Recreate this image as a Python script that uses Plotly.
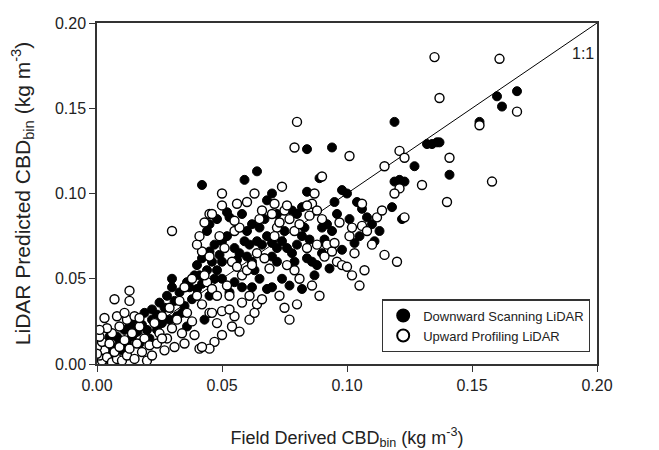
import plotly.graph_objects as go

# Downward Scanning LiDAR (filled)
down_x = [0.002,0.004,0.007,0.010,0.012,0.014,0.016,0.008,0.018,0.020,0.022,0.006,0.013,0.005,
          0.022,0.025,0.028,0.030,0.030,0.032,0.035,0.038,0.040,0.042,0.045,0.048,0.050,0.026,0.024,0.033,0.036,0.043,
          0.040,0.042,0.045,0.047,0.050,0.052,0.055,0.057,0.060,0.062,0.063,0.065,0.058,0.055,0.053,0.062,0.068,0.060,
          0.062,0.065,0.058,0.052,0.053,0.048,0.045,0.044,0.066,0.068,0.070,0.072,0.064,0.059,0.050,0.047,0.044,
          0.070,0.072,0.074,0.075,0.076,0.078,0.080,0.082,0.083,0.085,0.086,0.088,0.090,0.092,0.094,0.095,0.100,0.098,
          0.078,0.080,0.082,0.090,0.084,0.074,0.077,0.070,0.082,0.087,0.093,0.098,0.072,0.070,0.084,0.089,
          0.101,0.104,0.106,0.108,0.110,0.113,0.105,0.103,0.111,0.119,0.121,0.123,0.118,0.119,0.127,0.122,
          0.084,0.094,0.064,0.059,0.042,0.068,0.132,0.134,0.136,0.137,0.141,0.153,0.160,0.162,0.168,
          0.015,0.019,0.027,0.031,0.034,0.037,0.039,0.046,0.029,0.021,0.011,0.009,0.017,0.024,
          0.036,0.041,0.049,0.056,0.061,0.067,0.073,0.079,0.091,0.096]
down_y = [0.001,0.006,0.004,0.008,0.012,0.016,0.019,0.016,0.023,0.020,0.026,0.010,0.022,0.016,
          0.032,0.036,0.040,0.045,0.050,0.028,0.034,0.038,0.044,0.047,0.040,0.055,0.050,0.024,0.020,0.042,0.022,0.026,
          0.058,0.062,0.066,0.070,0.072,0.075,0.068,0.065,0.063,0.060,0.055,0.050,0.045,0.048,0.042,0.045,0.044,0.078,
          0.082,0.080,0.088,0.089,0.086,0.085,0.082,0.078,0.070,0.075,0.071,0.068,0.072,0.072,0.060,0.050,0.055,
          0.063,0.060,0.072,0.078,0.068,0.065,0.070,0.075,0.080,0.073,0.060,0.058,0.065,0.082,0.078,0.095,0.100,0.102,
          0.090,0.088,0.092,0.080,0.062,0.050,0.046,0.045,0.044,0.052,0.056,0.067,0.088,0.100,0.101,0.109,
          0.085,0.095,0.091,0.086,0.082,0.078,0.075,0.071,0.072,0.107,0.108,0.107,0.092,0.142,0.116,0.085,
          0.126,0.127,0.113,0.108,0.105,0.096,0.129,0.129,0.130,0.130,0.111,0.142,0.157,0.151,0.160,
          0.024,0.030,0.033,0.037,0.030,0.045,0.052,0.060,0.026,0.015,0.020,0.013,0.012,0.029,
          0.048,0.052,0.064,0.061,0.070,0.085,0.083,0.060,0.073,0.088]

# Upward Profiling LiDAR (open)
up_x = [0.000,0.002,0.001,0.003,0.000,0.002,0.001,0.004,0.006,0.008,0.005,0.007,0.009,0.010,0.012,0.011,0.013,
        0.015,0.016,0.014,0.018,0.019,0.017,0.020,0.021,0.006,0.009,0.012,0.004,0.008,0.011,0.015,0.003,0.000,0.001,
        0.007,0.013,0.013,
        0.022,0.024,0.027,0.025,0.028,0.030,0.026,0.032,0.034,0.036,0.038,0.041,0.047,0.050,0.042,0.045,0.048,0.040,
        0.033,0.029,0.035,0.044,0.038,0.043,0.050,0.046,0.053,0.055,
        0.042,0.045,0.049,0.051,0.054,0.056,0.058,0.060,0.062,0.055,0.057,0.064,0.067,0.069,0.061,0.058,0.064,0.052,
        0.048,0.040,0.041,0.045,0.056,0.060,0.066,0.065,0.070,0.072,0.055,0.063,0.050,0.043,0.046,0.053,
        0.071,0.073,0.075,0.077,0.079,0.081,0.085,0.086,0.088,0.090,0.092,0.094,0.096,0.098,0.100,0.102,0.105,0.107,
        0.103,0.101,0.097,0.088,0.084,0.079,0.076,0.081,0.086,0.089,0.073,0.080,0.075,0.077,0.084,0.076,0.074,0.071,
        0.087,0.095,0.091,0.066,0.061,0.045,
        0.102,0.106,0.108,0.112,0.114,0.110,0.115,0.121,0.119,0.120,0.123,0.121,0.123,0.115,0.130,0.101,0.106,
        0.080,0.079,0.090,0.135,0.161,0.137,0.141,0.140,0.158,0.168,0.153,0.030,0.046,0.050,0.042,0.026,
        0.054,0.057,0.063,0.035,0.039,0.031,0.023,0.017]
up_y = [0.000,0.002,0.005,0.008,0.010,0.013,0.016,0.004,0.001,0.003,0.012,0.007,0.010,0.002,0.005,0.014,0.009,
        0.003,0.012,0.018,0.007,0.015,0.022,0.002,0.011,0.018,0.022,0.026,0.021,0.028,0.030,0.028,0.027,0.006,0.020,
        0.038,0.043,0.037,
        0.005,0.012,0.008,0.018,0.015,0.021,0.028,0.026,0.018,0.030,0.025,0.009,0.013,0.017,0.035,0.030,0.024,0.040,
        0.037,0.033,0.045,0.048,0.050,0.052,0.031,0.044,0.040,0.028,
        0.066,0.063,0.075,0.068,0.060,0.057,0.052,0.055,0.058,0.078,0.080,0.065,0.062,0.056,0.040,0.036,0.035,0.046,
        0.040,0.070,0.075,0.088,0.094,0.095,0.090,0.085,0.088,0.080,0.084,0.100,0.093,0.083,0.030,0.032,
        0.075,0.083,0.090,0.085,0.078,0.082,0.087,0.094,0.090,0.085,0.070,0.066,0.060,0.058,0.057,0.052,0.046,0.055,
        0.065,0.075,0.083,0.070,0.068,0.055,0.058,0.050,0.046,0.040,0.040,0.035,0.033,0.026,0.093,0.093,0.104,0.094,
        0.100,0.071,0.063,0.038,0.026,0.009,
        0.080,0.081,0.078,0.086,0.090,0.070,0.064,0.103,0.100,0.060,0.086,0.125,0.121,0.116,0.105,0.122,0.094,
        0.142,0.127,0.110,0.180,0.179,0.156,0.121,0.095,0.107,0.148,0.140,0.078,0.088,0.100,0.010,0.015,
        0.022,0.019,0.030,0.012,0.017,0.010,0.024,0.027]

line_x = [0.0, 0.2]
line_y = [0.0, 0.2]

FONT = "Liberation Sans, Arial, sans-serif"

fig = go.Figure()
fig.add_trace(go.Scatter(x=line_x, y=line_y, mode="lines", line=dict(color="black", width=1),
                         showlegend=False, hoverinfo="skip"))
fig.add_trace(go.Scatter(x=down_x, y=down_y, mode="markers", name="Downward Scanning LiDAR",
                         marker=dict(symbol="circle", size=9, color="black", line=dict(color="black", width=1))))
fig.add_trace(go.Scatter(x=up_x, y=up_y, mode="markers", name="Upward Profiling LiDAR",
                         marker=dict(symbol="circle", size=9, color="white", line=dict(color="black", width=1.4))))

fig.add_annotation(x=0.1945, y=0.182, text="1:1", showarrow=False,
                   font=dict(size=16, color="#222", family=FONT))

axis_common = dict(range=[0, 0.2], tickvals=[0, 0.05, 0.10, 0.15, 0.20], tickformat=".2f",
                   showline=True, linecolor="#333", linewidth=1.5, mirror=True, ticks="outside",
                   ticklen=6, tickcolor="#333", showgrid=False, zeroline=False,
                   ticklabeloverflow="allow",
                   tickfont=dict(size=16, color="#222", family=FONT))
fig.update_xaxes(**axis_common, title=dict(text="Field Derived CBD<sub>bin</sub> (kg m<sup>-3</sup>)",
                                           font=dict(size=18, color="#222", family=FONT), standoff=38))
fig.update_yaxes(**axis_common, title=dict(text="LiDAR Predicted CBD<sub>bin</sub> (kg m<sup>-3</sup>)",
                                           font=dict(size=21, color="#222", family=FONT), standoff=24))

fig.update_layout(
    width=659, height=450,
    margin=dict(l=89, r=70, t=7, b=94),
    paper_bgcolor="white", plot_bgcolor="white",
    font=dict(family=FONT, color="#222"),
    legend=dict(x=0.986, y=0.034, xanchor="right", yanchor="bottom", bgcolor="white",
                bordercolor="#333", borderwidth=1.2, font=dict(size=13, family=FONT),
                itemsizing="constant", tracegroupgap=0),
)

fig.write_html("out.html")
